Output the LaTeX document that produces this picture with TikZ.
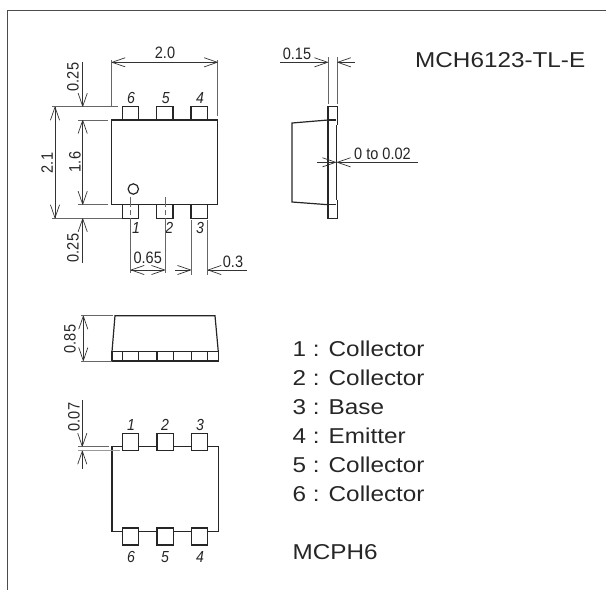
\documentclass[tikz,border=0pt]{standalone}
\usepackage{fontspec}
\setmainfont{Liberation Sans}
\newfontfamily\dimfont[FakeStretch=0.88]{Liberation Sans}
\newfontfamily\bigfont[FakeStretch=1.13]{Liberation Sans}
\usetikzlibrary{arrows.meta}
\tikzset{
 x=1pt,y=-1pt,
 outl/.style={draw=black!85,line width=1.4pt,line join=miter},
 pin/.style={draw=black!85,fill=white,line width=1.3pt},
 dimm/.style={draw=black!80,line width=.8pt},
 ext/.style={draw=black!60,line width=.9pt},
 barb/.tip={Straight Barb[length=13pt,width=9pt,line width=.7pt,round=false]},
 dimt/.style={font=\dimfont\fontsize{16.5}{18}\selectfont,text=black!85,inner sep=0pt},
 numt/.style={font=\dimfont\fontsize{16}{18}\selectfont\itshape,text=black!85,inner sep=0pt},
 bigt/.style={font=\bigfont\fontsize{21.5}{24}\selectfont,text=black!85,inner sep=0pt,anchor=west},
}
\begin{document}
\begin{tikzpicture}
\useasboundingbox (0,0) rectangle (606,590);
% frame
\draw[draw=black!70,line width=1pt] (7,590) -- (7,10) -- (606,10);
% ---- top view
\foreach \a/\b in {122.3/138.7,156.7/173,191/207.7}{
 \draw[pin] (\a,106.7) rectangle (\b,120);
 \draw[pin] (\a,204.7) rectangle (\b,218.3);
}
\draw[outl,fill=white] (111.7,120) rectangle (217.7,204.7);
\draw[draw=black!85,line width=1.2pt] (133.3,189) circle (5.2);
\foreach \a/\n in {131/6,165.7/5,200/4}{\node[numt] (t\n) at (\a,98) {\n};}
\foreach \a/\n in {136/1,169.3/2,200/3}{\node[numt] (t\n) at (\a,228) {\n};}
% extension lines
\draw[ext] (111.7,60) -- (111.7,107);
\draw[ext] (217.7,60) -- (217.7,116);
\draw[ext] (52,106.7) -- (118,106.7);
\draw[ext] (52,218.3) -- (122,218.3);
\draw[ext] (78,120) -- (108,120);
\draw[ext] (78,204.7) -- (108,204.7);
\draw[ext] (130.7,197) -- (130.7,273);
\draw[ext] (165,197) -- (165,273);
\draw[ext] (191,220) -- (191,275);
\draw[ext] (207.7,220) -- (207.7,275);
\draw[white,line width=.9pt,dash pattern=on 3pt off 5pt] (130.7,207) -- (130.7,218);
\draw[white,line width=.9pt,dash pattern=on 3pt off 5pt] (165,207) -- (165,218);
% dimensions
\draw[dimm,barb-barb] (111.7,62.3) -- (217.7,62.3);
\draw[dimm,barb-barb] (55,106.7) -- (55,218.3);
\draw[dimm,-barb] (82.7,62) -- (82.7,106.7);
\draw[dimm,barb-barb] (82.7,120) -- (82.7,204.7);
\draw[dimm,barb-] (82.7,218.3) -- (82.7,263);
\draw[dimm,barb-barb] (130.7,270) -- (165,270);
\draw[dimm,-barb] (175,270) -- (191,270);
\draw[dimm,barb-] (207.7,270) -- (247,270);
\node[dimt] (d20) at (165,53) {2.0};
\node[dimt,rotate=90] (d21) at (47,163) {2.1};
\node[dimt,rotate=90] (d16) at (75,162) {1.6};
\node[dimt,rotate=90] (d25a) at (73,77) {0.25};
\node[dimt,rotate=90] (d25b) at (73,248) {0.25};
\node[dimt] (d65) at (147.7,258) {0.65};
\node[dimt] (d3) at (233,262) {0.3};
% ---- side view
\draw[outl,line width=1.2pt] (328,120) -- (292,123) -- (292,202) -- (328,204.7);
\draw[outl,line width=1.2pt] (328,106.7) rectangle (337.3,218.3);
\draw[draw=white,line width=1.1pt] (337.3,125) -- (337.3,200);
\draw[draw=black!85,line width=.8pt] (336.3,125) -- (336.3,200);
\draw[draw=black!85,line width=1.1pt] (328,120) -- (336,120);
\draw[draw=black!85,line width=1.1pt] (328,204.7) -- (336,204.7);
\draw[ext] (328,57) -- (328,104);
\draw[ext] (337.3,57) -- (337.3,104);
\draw[dimm,-barb] (280,62.3) -- (328,62.3);
\draw[dimm,barb-] (337.3,62.3) -- (355,62.3);
\node[dimt] (d15) at (297,54) {0.15};
\draw[dimm,-barb] (317,162.3) -- (336,162.3);
\draw[dimm,barb-] (337,162.3) -- (418,162.3);
\node[dimt] (d02) at (382.5,154) {0 to 0.02};
% ---- front view
\draw[outl,line width=1.2pt] (112,351.7) -- (115,315.7) -- (215,315.7) -- (218.3,351.7);
\draw[outl,line width=1.2pt] (112,351.7) rectangle (218.3,361);
\foreach \a/\b in {122.7/138.7,157/173.3,191.3/207.7}{
 \draw[pin] (\a,351.7) rectangle (\b,361);
}
\draw[ext] (81,315.7) -- (113,315.7);
\draw[ext] (81,361) -- (112,361);
\draw[dimm,barb-barb] (83.3,315.7) -- (83.3,361);
\node[dimt,rotate=90] (d85) at (70,339) {0.85};
% ---- bottom view
\draw[outl] (112,446.7) rectangle (218.3,531.7);
\foreach \a/\b in {122.7/138.7,157/173.3,191.3/207.7}{
 \draw[pin] (\a,433.7) rectangle (\b,450.7);
 \draw[pin] (\a,528) rectangle (\b,545);
}
\foreach \a/\n in {131/1,165/2,200/3}{\node[numt] (u\n) at (\a,425) {\n};}
\foreach \a/\n in {131/6,165/5,200/4}{\node[numt] (v\n) at (\a,556.7) {\n};}
\draw[ext] (78,446.7) -- (109,446.7);
\draw[ext,black!40] (78,450.7) -- (120,450.7);
\draw[dimm,-barb] (82.3,400) -- (82.3,446.7);
\draw[dimm,barb-] (82.3,450.7) -- (82.3,469);
\node[dimt,rotate=90] (d07) at (74,417) {0.07};
% ---- texts
\node[bigt] (title) at (415,60) {MCH6123-TL-E};
\node[bigt] (l1) at (292.5,349) {1 : Collector};
\node[bigt] (l2) at (292.5,378) {2 : Collector};
\node[bigt] (l3) at (292.5,407) {3 : Base};
\node[bigt] (l4) at (292.5,436) {4 : Emitter};
\node[bigt] (l5) at (292.5,465) {5 : Collector};
\node[bigt] (l6) at (292.5,494) {6 : Collector};
\node[bigt] (mc) at (292.5,552) {MCPH6};
\end{tikzpicture}
\end{document}
